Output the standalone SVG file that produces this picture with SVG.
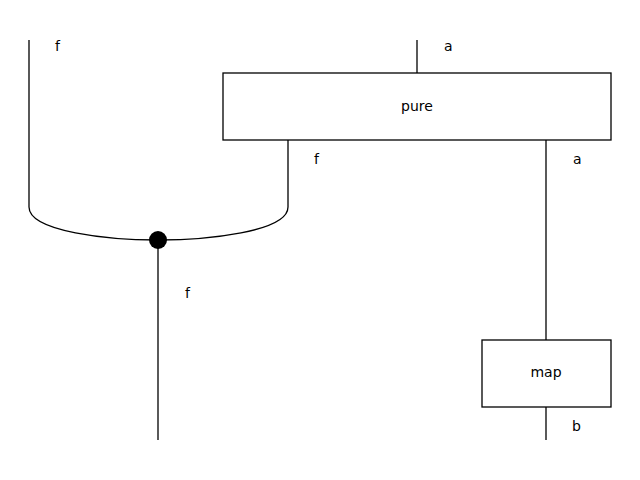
<svg xmlns="http://www.w3.org/2000/svg" width="640" height="480" viewBox="0 0 640 480">
<style>
.w{fill:none;stroke:#000;stroke-width:1.3}
.box{fill:#fff;stroke:#000;stroke-width:1.3}
text{font-family:"DejaVu Sans",sans-serif;font-size:14px;fill:#000}
.c{text-anchor:middle;dominant-baseline:central}
</style>
<rect width="640" height="480" fill="#fff"/>
<g id="connectors">
<path class="w" d="M29,40 V207 C29,232 110,240 158,240"/>
<path class="w" d="M288,140 V207 C288,232 206,240 158,240"/>
<path class="w" d="M158,240 V440"/>
<path class="w" d="M417,40 V73"/>
<path class="w" d="M546,140 V340"/>
<path class="w" d="M546,407 V440"/>
</g>
<g id="labels">
<text x="55" y="51">f</text>
<text x="444" y="51">a</text>
<text x="314" y="164">f</text>
<text x="573" y="164">a</text>
<text x="185" y="298">f</text>
<text x="572" y="431">b</text>
</g>
<g id="pure">
<rect class="box" x="223" y="73" width="388" height="67"/>
<text class="c" x="417" y="106">pure</text>
</g>
<g id="map">
<rect class="box" x="482" y="340" width="129" height="67"/>
<text class="c" x="546" y="372">map</text>
</g>
<g id="dot">
<circle cx="158" cy="240" r="9" fill="#000"/>
</g>
</svg>
